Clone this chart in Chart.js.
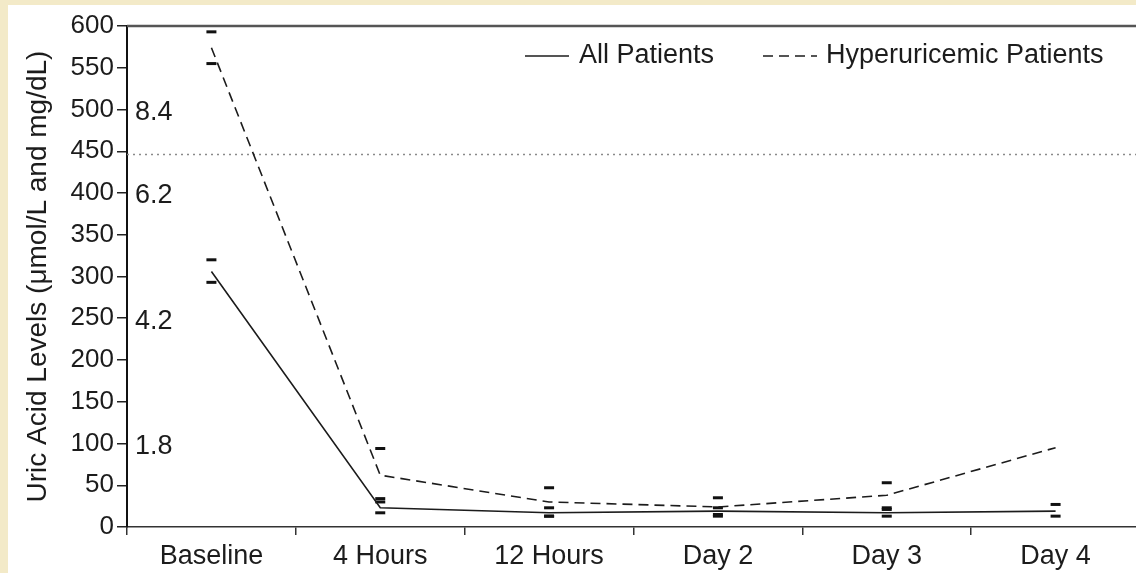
<!DOCTYPE html>
<html>
<head>
<meta charset="utf-8">
<script src="https://cdn.jsdelivr.net/npm/chart.js@4.4.1/dist/chart.umd.min.js"></script>
<style>
  html, body { margin: 0; padding: 0; background: #f3eac8; }
  body { width: 1136px; height: 573px; overflow: hidden; position: relative; }
  #panel { position: absolute; left: 8px; top: 5px; width: 1128px; height: 568px; background: #fff; overflow: hidden; }
  canvas { display: block; }
</style>
</head>
<body>
<div id="panel"><canvas id="chart" width="1140" height="568"></canvas></div>
<script>
const categories = ['Baseline', '4 Hours', '12 Hours', 'Day 2', 'Day 3', 'Day 4'];

// µmol/L
const allMean = [306, 23, 17, 19, 17, 19];
const allUpper = [320, 34, 23, 23, 21, 27];
const allLower = [293, 17, 13, 15, 13, 13];

const hyperMean = [574, 62, 30, 24, 38, 95];
const hyperUpper = [593, 94, 47, 35, 53, null];
const hyperLower = [555, 30, 13, 13, 23, null];

// mg/dL equivalents printed inside the plot, next to the µmol/L ticks
const mgText = ['8.4', '6.2', '4.2', '1.8'];
const mgAt = [500, 400, 250, 100];

const thresholdLevel = 446;

const FONT = '"Liberation Sans", Arial, Helvetica, sans-serif';
const INK = '#1c1c1c';

function capSet(label, data) {
  return {
    label,
    data,
    showLine: false,
    pointStyle: 'line',
    pointRadius: 5,
    pointHoverRadius: 5,
    pointBorderWidth: 3,
    pointBorderColor: '#111',
  };
}

const overlay = {
  id: 'overlay',
  beforeDatasetsDraw(chart) {
    const { ctx, chartArea, scales } = chart;
    const y = scales.y.getPixelForValue(thresholdLevel);
    ctx.save();
    ctx.strokeStyle = '#8a8a8a';
    ctx.lineWidth = 1.5;
    ctx.setLineDash([2, 4]);
    ctx.beginPath();
    ctx.moveTo(chartArea.left, y);
    ctx.lineTo(chartArea.right, y);
    ctx.stroke();
    ctx.restore();
  },
  afterDraw(chart) {
    const { ctx, chartArea, scales } = chart;
    ctx.save();
    // top frame line at 600
    ctx.strokeStyle = '#555';
    ctx.lineWidth = 2.5;
    ctx.beginPath();
    ctx.moveTo(chartArea.left, chartArea.top);
    ctx.lineTo(chartArea.right, chartArea.top);
    ctx.stroke();

    // mg/dL labels
    ctx.fillStyle = INK;
    ctx.font = `27px ${FONT}`;
    ctx.textAlign = 'left';
    ctx.textBaseline = 'middle';
    mgText.forEach((t, i) => {
      ctx.fillText(t, chartArea.left + 8, scales.y.getPixelForValue(mgAt[i]) + 3);
    });

    // legend
    const items = [
      { ds: chart.data.datasets[0], x0: 398, x1: 442, tx: 452 },
      { ds: chart.data.datasets[1], x0: 636, x1: 690, tx: 699 },
    ];
    const ly = chartArea.top + 30;
    ctx.font = `27px ${FONT}`;
    items.forEach(({ ds, x0, x1, tx }) => {
      ctx.strokeStyle = ds.borderColor;
      ctx.lineWidth = ds.borderWidth;
      ctx.setLineDash(ds.borderDash || []);
      ctx.beginPath();
      ctx.moveTo(chartArea.left + x0, ly);
      ctx.lineTo(chartArea.left + x1, ly);
      ctx.stroke();
      ctx.fillText(ds.label, chartArea.left + tx, ly);
    });
    ctx.restore();
  },
};

new Chart(document.getElementById('chart'), {
  type: 'line',
  data: {
    labels: categories,
    datasets: [
      {
        label: 'All Patients',
        data: allMean,
        borderColor: INK,
        borderWidth: 1.6,
        pointRadius: 0,
        tension: 0,
      },
      {
        label: 'Hyperuricemic Patients',
        data: hyperMean,
        borderColor: INK,
        borderWidth: 1.6,
        borderDash: [10, 6],
        pointRadius: 0,
        tension: 0,
      },
      capSet('all upper', allUpper),
      capSet('all lower', allLower),
      capSet('hyper upper', hyperUpper),
      capSet('hyper lower', hyperLower),
    ],
  },
  options: {
    responsive: false,
    animation: false,
    layout: { padding: { top: 21, right: 4, left: 0, bottom: 0 } },
    plugins: {
      legend: { display: false },
      tooltip: { enabled: false },
    },
    scales: {
      x: {
        offset: true,
        grid: { drawOnChartArea: false, drawTicks: true, tickLength: 8, offset: true, color: '#333', lineWidth: 1.5 },
        border: { display: true, color: '#333', width: 1.5 },
        ticks: { color: INK, font: { family: FONT, size: 27 }, padding: 5, maxRotation: 0 },
        afterFit(s) { s.height = 46; },
      },
      y: {
        min: 0,
        max: 600,
        grid: { drawOnChartArea: false, drawTicks: true, tickLength: 10, color: '#222', lineWidth: 1.5 },
        border: { display: true, color: '#111', width: 2 },
        ticks: { stepSize: 50, color: INK, font: { family: FONT, size: 26 }, padding: 3 },
        title: {
          display: true,
          text: 'Uric Acid Levels (μmol/L and mg/dL)',
          color: INK,
          font: { family: FONT, size: 28 },
          padding: { top: 13, bottom: 0 },
        },
        afterFit(s) { s.width = 119; },
      },
    },
  },
  plugins: [overlay],
});
</script>
</body>
</html>
